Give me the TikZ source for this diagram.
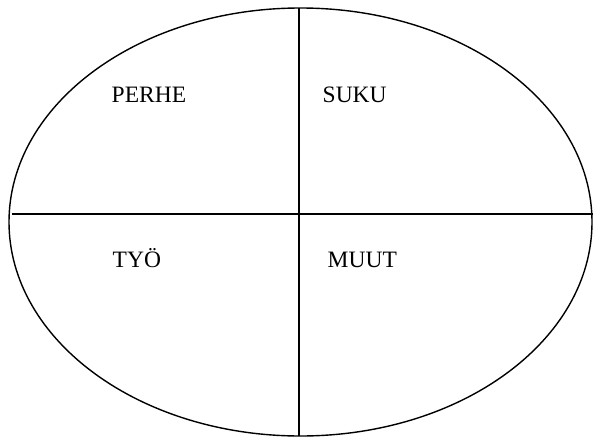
\documentclass[tikz,border=0pt]{standalone}
\usepackage{fontspec}
\setmainfont{Liberation Serif}
\usepackage{tikz}

\begin{document}
\begin{tikzpicture}[x=1pt,y=-1pt,line width=1.4pt,lbl/.style={anchor=base west,inner sep=0pt,font=\fontsize{23.5}{28}\selectfont}]
\useasboundingbox (0,0) rectangle (593,436);
\draw (300.5,222) ellipse [x radius=291.5, y radius=214];
\coordinate (top) at (299,8);
\coordinate (bottom) at (299,436);
\coordinate (left) at (12,214);
\coordinate (right) at (593,214);
\draw (top) -- (bottom);
\draw (left) -- (right);
\foreach \n/\x/\y/\t in %
{perhe/111/102/PERHE,suku/322/102/SUKU,tyo/112/267/TYÖ,muut/327/267/MUUT} {
   \node[lbl] (\n) at (\x,\y) {\t};
}
\end{tikzpicture}
\end{document}
